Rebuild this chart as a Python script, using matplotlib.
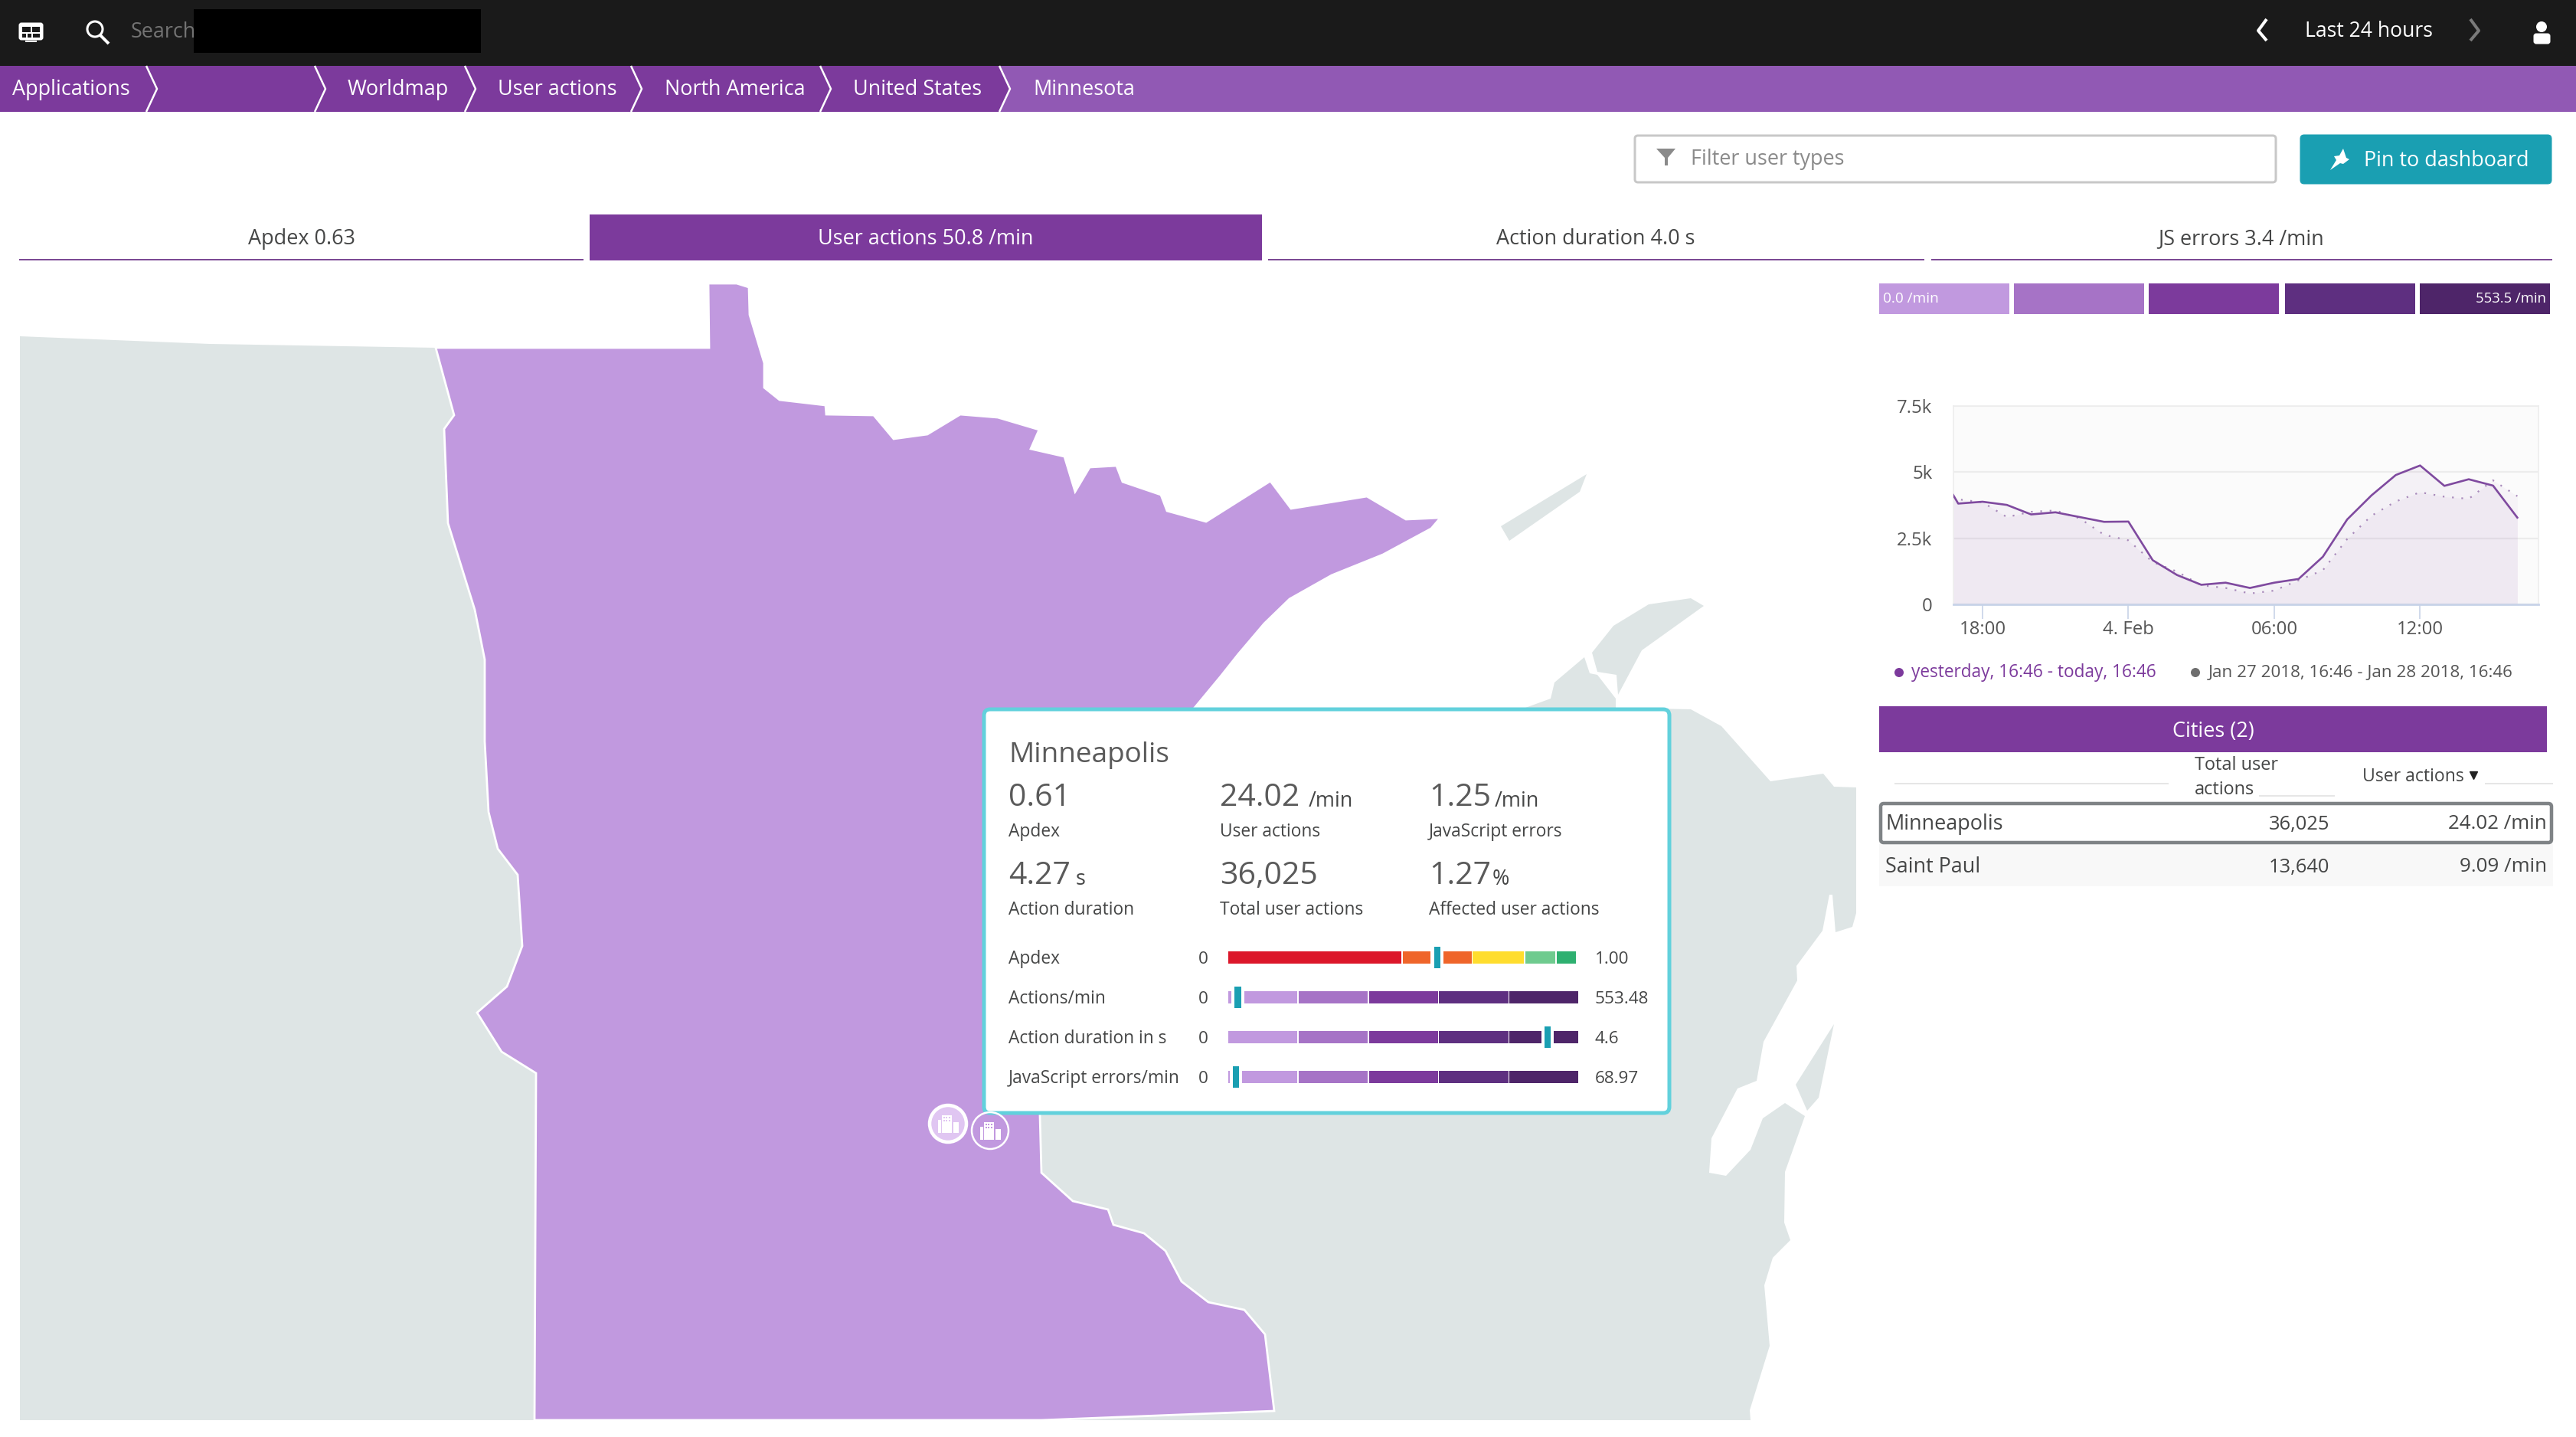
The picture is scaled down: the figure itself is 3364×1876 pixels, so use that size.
import matplotlib
matplotlib.use("Agg")
import matplotlib.pyplot as plt
from matplotlib.patches import Polygon, Rectangle, Circle, FancyBboxPatch

W, H = 3364, 1876
plt.rcParams['font.family'] = ['Open Sans', 'DejaVu Sans']

# ---------- data ----------
crumbs = ["Applications", "", "Worldmap", "User actions", "North America", "United States", "Minnesota"]
tab_labels = ["Apdex 0.63", "User actions 50.8 /min", "Action duration 4.0 s", "JS errors 3.4 /min"]

hours = [-1.23, -1, 0, 1, 2, 3, 4, 5, 6, 7, 8, 9, 10, 11, 12, 13, 14, 15, 16, 17, 18, 19, 20, 21, 22]
current = [4170, 3810, 3880, 3760, 3400, 3480, 3300, 3120, 3130, 1670, 1110, 740, 820, 620, 820, 960,
           1800, 3210, 4120, 4890, 5250, 4480, 4730, 4490, 3280]
previous = [4100, 3970, 3860, 3300, 3500, 3550, 3250, 2630, 2420, 1600, 1240, 720, 620, 410, 520, 910,
            1290, 2470, 3350, 3890, 4240, 4070, 3990, 4690, 4090]
x_tick_hours = [0, 6, 12, 18]
x_tick_labels = ["18:00", "4. Feb", "06:00", "12:00"]
y_tick_values = [0, 2500, 5000, 7500]
y_tick_labels = ["0", "2.5k", "5k", "7.5k"]

cities = ["Minneapolis", "Saint Paul"]
city_totals = ["36,025", "13,640"]
city_rates = ["24.02 /min", "9.09 /min"]

range_labels = ["Apdex", "Actions/min", "Action duration in s", "JavaScript errors/min"]
range_max = [1.0, 553.48, 4.6, 68.97]
range_max_labels = ["1.00", "553.48", "4.6", "68.97"]
range_marker = [0.598, 15.1, 4.18, 1.52]
apdex_edges = [0, 0.5, 0.7, 0.85, 0.94, 1.0]
apdex_colors = ["#DC172A", "#EF652A", "#FFDD2E", "#6FCB8F", "#2EB070"]
purple_steps = ["#C199DF", "#A673C6", "#7C3A9C", "#5E2F80", "#4E2569"]

minnesota = [(569,454), (926,454), (925,370), (962,370), (978,375), (979,411), (998,474), (998,506),
    (1018,522), (1078,529), (1079,541), (1141,542), (1167,573), (1211,567), (1254,541), (1303,545),
    (1357,561), (1346,586), (1390,596), (1404,642), (1423,610), (1458,608), (1466,629), (1516,646),
    (1524,667), (1575,681), (1659,628), (1686,664), (1785,648), (1836,678), (1881,676), (1869,690),
    (1806,724), (1739,751), (1684,782), (1651,814), (1617,854), (1594,883), (1560,924), (1400,1100),
    (1358,1456), (1360,1531), (1401,1568), (1447,1579), (1454,1599), (1494,1610), (1522,1633),
    (1543,1673), (1578,1700), (1625,1710), (1652,1742), (1664,1842), (1360,1854), (698,1854),
    (700,1401), (655,1373), (623,1322), (662,1288), (682,1235), (676,1142), (650,1108), (638,1060),
    (633,968), (633,861), (620,796), (585,683), (580,560), (593,542)]
west_land = [(26,439), (274,449), (569,454), (593,542), (580,560), (585,683), (620,796), (633,861),
    (633,968), (638,1060), (650,1108), (676,1142), (682,1235), (662,1288), (623,1322), (655,1373),
    (700,1401), (698,1854), (26,1854)]
east_land = [(1992,924), (2025,912), (2030,891), (2069,858), (2076,879), (2086,881), (2110,912),
    (2110,924), (2208,926), (2248,948), (2312,1020), (2381,1010), (2395,1027), (2424,1028), (2424,1192),
    (2419,1210), (2397,1217), (2393,1168), (2389,1168), (2380,1215), (2346,1261), (2347,1280),
    (2303,1360), (2294,1411), (2269,1421), (2235,1486), (2232,1531), (2254,1535), (2286,1501),
    (2302,1460), (2331,1440), (2357,1457), (2331,1530), (2330,1596), (2338,1619), (2315,1642),
    (2304,1678), (2311,1757), (2285,1841), (2286,1854), (1360,1854), (1358,1300), (1500,924)]
keweenaw = [(2153,789), (2208,781), (2225,791), (2144,849), (2113,907), (2111,881), (2086,877),
    (2079,852), (2107,817)]
isle_royale = [(1960,687), (2072,619), (2063,642), (1971,706)]
michigan_isle = [(2345,1416), (2395,1337), (2375,1433), (2360,1450)]

# ---------- figure ----------
fig = plt.figure(figsize=(W/100, H/100), dpi=100, facecolor="white")
ax = fig.add_axes([0, 0, 1, 1])
ax.set_xlim(0, W); ax.set_ylim(H, 0); ax.axis("off")

DARK = "#454646"; PURPLE = "#7C3A9C"; LIGHT_PURPLE = "#9159B4"; TEAL = "#1A9FB2"

def T(x, y, s, px=27, color=DARK, ha="left", va="center", **kw):
    return ax.text(x, y+2, s, fontsize=px*0.72, color=color, ha=ha, va=va, zorder=kw.pop("zorder", 20), **kw)

def R(x0, y0, x1, y1, color, z=2, **kw):
    ax.add_patch(Rectangle((x0, y0), x1-x0, y1-y0, facecolor=color, edgecolor="none", zorder=z, **kw))

def RR(x0, y0, x1, y1, fc, ec, lw, r=6, z=10):
    ax.add_patch(FancyBboxPatch((x0+r, y0+r), x1-x0-2*r, y1-y0-2*r, boxstyle=f"round,pad={r},rounding_size={r}",
                 facecolor=fc, edgecolor=ec, linewidth=lw*0.72, zorder=z))

def L(xs, ys, color, lw, z=12, **kw):
    ax.plot(xs, ys, color=color, lw=lw*0.72, zorder=z, solid_capstyle=kw.pop("cap", "butt"), **kw)

def px_axes(x0, y0, x1, y1, z=15):
    a = fig.add_axes([x0/W, 1-y1/H, (x1-x0)/W, (y1-y0)/H], zorder=z)
    return a

# top bar
R(0, 0, W, 86, "#1A1A1A")
R(253, 12, 628, 69, "#000000", z=3)
# menu icon
RR(25, 30, 56, 52, "white", "white", 1, r=3, z=5)
for x0, x1 in ((29,40),(42,52)):
    R(x0, 35, x1, 42, "#1A1A1A", z=6)
for x0, x1 in ((29,34),(36,41),(43,52)):
    R(x0, 44, x1, 49, "#1A1A1A", z=6)
R(33, 53, 48, 55, "white", z=5)
# search icon
ax.add_patch(Circle((124, 38), 10, facecolor="none", edgecolor="white", linewidth=2.2, zorder=5))
L([131, 142], [46, 57], "white", 4, z=5)
T(171, 40, "Search", 27, "#737373")
T(3010, 39, "Last 24 hours", 26.5, "white", fontweight="medium")
L([2960, 2949, 2960], [25, 40, 53], "white", 4, z=5)
L([3226, 3237, 3226], [25, 40, 53], "#7A7A7A", 4, z=5)
ax.add_patch(Circle((3319, 35), 7, facecolor="white", edgecolor="none", zorder=5))
RR(3309, 44, 3330, 57, "white", "white", 1, r=3, z=5)

# breadcrumb
R(0, 86, W, 146, LIGHT_PURPLE)
chev_top = [191, 411, 607, 824, 1071, 1305]
ax.add_patch(Polygon([(0,86), (1305,86), (1319,116), (1305,146), (0,146)], facecolor=PURPLE, edgecolor="none", zorder=3))
for c in chev_top:
    L([c, c+14, c], [86, 116, 146], "white", 2.5, z=4)
crumb_x = [16, None, 454, 650, 868, 1114, 1349]
for x, s in zip(crumb_x, crumbs):
    if x is not None:
        T(x, 115, s, 27, "white")

# filter + pin
RR(2135, 177, 2972, 238, "white", "#C8C8C8", 3, r=4)
ax.add_patch(Polygon([(2163,194), (2188,194), (2178,206), (2178,216), (2174,216), (2174,206)], facecolor="#8A8A8A", edgecolor="none", zorder=14))
T(2208, 206, "Filter user types", 27, "#8A8A8A")
RR(3004, 176, 3332, 240, TEAL, TEAL, 1, r=5)
ax.add_patch(Polygon([(3060,194), (3064,206), (3068,208), (3060,214), (3056,213), (3043,222), (3051,209), (3048,204), (3055,203)],
                     facecolor="white", edgecolor="none", zorder=14))
T(3087, 208, "Pin to dashboard", 27, "white", fontweight="medium")

# tabs
R(25, 338, 762, 340.5, "#7C4A95")
R(770, 280, 1648, 340, PURPLE)
R(1656, 338, 2513, 340.5, "#7C4A95")
R(2522, 338, 3333, 340.5, "#7C4A95")
for cx, s, c in zip([394, 1209, 2084, 2927], tab_labels, [DARK, "white", DARK, DARK]):
    T(cx, 310, s, 27, c, ha="center")

# map
GREY = "#DEE5E5"
for poly in (west_land, east_land, keweenaw, isle_royale, michigan_isle):
    ax.add_patch(Polygon(poly, closed=True, facecolor=GREY, edgecolor="none", zorder=4))
ax.add_patch(Polygon(minnesota, closed=True, facecolor="#C199DF", edgecolor="white", linewidth=2, zorder=5))

# colour scale
scale_x = [(2454,2624), (2630,2800), (2806,2976), (2984,3154), (3160,3330)]
for (x0, x1), c in zip(scale_x, purple_steps):
    R(x0, 370, x1, 410, c)
T(2459, 388, "0.0 /min", 19, "white")
T(3325, 388, "553.5 /min", 18.5, "white", ha="right")

# line chart
ca = px_axes(2551, 530, 3315, 789)
ca.set_facecolor("#FBFBFB")
ca.set_xlim(-1.197, 22.87); ca.set_ylim(0, 7500)
ca.set_yticks(y_tick_values); ca.set_yticklabels(y_tick_labels)
ca.set_xticks(x_tick_hours); ca.set_xticklabels(x_tick_labels)
ca.tick_params(axis="y", length=0, pad=20, labelsize=24*0.72, labelcolor="#555555")
ca.tick_params(axis="x", length=14, width=1.2, color="#C8D3E8", pad=1, labelsize=24*0.72, labelcolor="#555555")
ca.yaxis.grid(True, color="#ECECEC", lw=1.6); ca.set_axisbelow(True)
for k in ("top", "left", "right"):
    ca.spines[k].set_color("#EEEEEE"); ca.spines[k].set_linewidth(1.2)
ca.spines["bottom"].set_color("#C8D3E8"); ca.spines["bottom"].set_linewidth(2)
ca.fill_between(hours, current, color=PURPLE, alpha=0.05, lw=0, zorder=2)
ca.fill_between(hours, previous, color=PURPLE, alpha=0.04, lw=0, zorder=2)
ca.plot(hours, previous, color="#A98BBB", lw=1.6, ls=(0, (1, 4.5)), zorder=3)
ca.plot(hours, current, color="#7F4A9F", lw=1.9, zorder=4)

# chart legend
ax.add_patch(Circle((2480, 878), 6, facecolor=PURPLE, edgecolor="none", zorder=12))
T(2496, 876, "yesterday, 16:46 - today, 16:46", 22.6, PURPLE)
ax.add_patch(Circle((2867, 878), 6, facecolor="#6E6E6E", edgecolor="none", zorder=12))
T(2884, 876, "Jan 27 2018, 16:46 - Jan 28 2018, 16:46", 22.4, "#555555")

# cities table
R(2454, 922, 3326, 982, PURPLE)
T(2890, 953, "Cities (2)", 27, "white", ha="center", fontweight="medium")
T(2866, 997, "Total user", 23.5)
T(2866, 1029, "actions", 23.5)
T(3085, 1012, "User actions", 23)
ax.plot([3230], [1012], marker="v", ms=7, color="#222222", zorder=20)
L([2474, 2832], [1023, 1023], "#E6E6E6", 2)
L([2950, 3049], [1039, 1039], "#E6E6E6", 2)
L([3245, 3334], [1023, 1023], "#E6E6E6", 2)
R(2454, 1102, 3334, 1157, "#F8F8F8")
RR(2456, 1049, 3332, 1100, "white", "#7F8386", 4.5, r=4)
for y, name, tot, rate in zip([1074, 1130], cities, city_totals, city_rates):
    T(2462, y, name, 27)
    T(3042, y, tot, 25.5, ha="right")
    T(3326, y, rate, 26, ha="right")

# tooltip
RR(1285, 926, 2180, 1453, "white", "#62D1DC", 5, r=8, z=10)
T(1317, 984, "Minneapolis", 37, "#5A5A5A")
big = [(1317, 1040, "0.61", None, 0), (1593, 1040, "24.02", "/min", 1709), (1866, 1040, "1.25", "/min", 1952),
       (1317, 1142, "4.27", "s", 1405), (1593, 1142, "36,025", None, 0), (1866, 1142, "1.27", "%", 1949)]
for x, y, s, unit, ux in big:
    T(x, y, s, 41, "#5A5A5A")
    if unit:
        T(ux, y+4, unit, 27)
subs = [(1317, 1084, "Apdex"), (1593, 1084, "User actions"), (1866, 1084, "JavaScript errors"),
        (1317, 1186, "Action duration"), (1593, 1186, "Total user actions"), (1866, 1186, "Affected user actions")]
for x, y, s in subs:
    T(x, y, s, 22.7)

rows_y = [1250, 1302, 1354, 1406]
for i, (y, lab, mx, mxl, mk) in enumerate(zip(rows_y, range_labels, range_max, range_max_labels, range_marker)):
    T(1317, y, lab, 22.7)
    T(1571, y, "0", 22.5, ha="center")
    T(2083, y, mxl, 22.5)
    bar_end = 2060 if i == 0 else 2063
    b = px_axes(1604, y-16, bar_end, y+16, z=16)
    b.set_xlim(0, mx); b.set_ylim(-1, 1); b.axis("off"); b.patch.set_alpha(0)
    if i == 0:
        edges = apdex_edges; cols = apdex_colors
    else:
        edges = [mx*k/5 for k in range(6)]; cols = purple_steps
    gap = mx*0.0035
    for j, c in enumerate(cols):
        b.barh(0, edges[j+1]-edges[j]-gap, left=edges[j], height=1.0, color=c, lw=0)
    b.barh(0, mx*0.036, left=mk-mx*0.018, height=1.0, color="white", lw=0)
    b.barh(0, mx*0.018, left=mk-mx*0.009, height=1.75, color=TEAL, lw=0)

# city markers
def city(cx, cy, r, face, elw):
    ax.add_patch(Circle((cx, cy), r, facecolor=face, edgecolor="white", linewidth=elw*0.72, zorder=14))
    for x0, y0, x1, y1 in ((-8,-11,5,12), (-13,-5,-9,12), (7,-2,14,12)):
        R(cx+x0, cy+y0, cx+x1, cy+y1, "white", z=15)
    for wx in (-6, -2.5, 1):
        for wy in (-9, -5):
            R(cx+wx, cy+wy, cx+wx+2, cy+wy+2.5, face if face != "none" else "#C199DF", z=16)
city(1238, 1467, 24, "#E0C6F2", 4.5)
city(1293, 1476, 24, "none", 2.5)

fig.savefig("out.png", dpi=100, facecolor="white")
